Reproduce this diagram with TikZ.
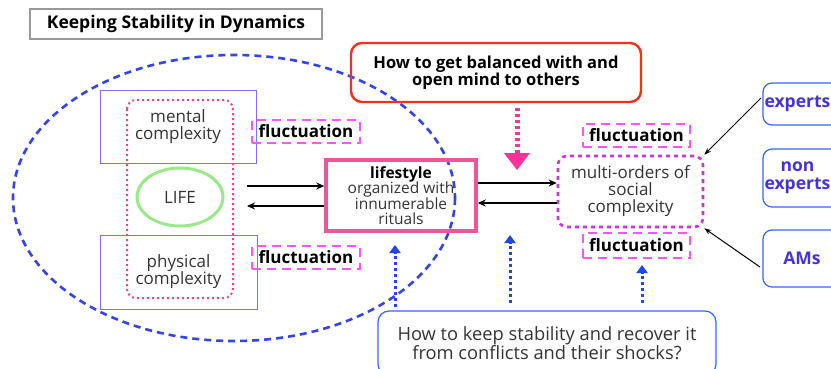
\documentclass[tikz,border=0pt]{standalone}
\usepackage{fontspec}
\setmainfont{Open Sans}
\usetikzlibrary{arrows.meta,shapes.geometric}
\definecolor{txt}{HTML}{333333}
\definecolor{violetline}{HTML}{7F6FFF}
\definecolor{ellblue}{HTML}{3344EE}
\definecolor{pinkdot}{HTML}{EE4488}
\definecolor{lifegreen}{HTML}{9BE88A}
\definecolor{flucmag}{HTML}{FF55FF}
\definecolor{stylepink}{HTML}{F0559A}
\definecolor{socialmag}{HTML}{CC33DD}
\definecolor{agentblue}{HTML}{3366FF}
\definecolor{agenttxt}{HTML}{4433DD}
\definecolor{qred}{HTML}{F03020}
\definecolor{bigpink}{HTML}{FF3399}
\definecolor{qblue}{HTML}{2244EE}
\begin{document}
\begin{tikzpicture}[x=1pt,y=-1pt,
  every node/.style={inner sep=0pt,font=\fontsize{17}{17}\selectfont,text=txt,align=center},
  titlebox/.style={draw=gray!80,line width=1.2pt,font=\fontsize{17.5}{17}\selectfont\bfseries,text=black},
  complexbox/.style={draw=violetline,line width=1pt},
  flucbox/.style={draw=flucmag,line width=1.6pt,dash pattern=on 9pt off 6pt,font=\fontsize{17}{17}\selectfont\bfseries,text=black},
  agentbox/.style={draw=agentblue,line width=1.2pt,rounded corners=9pt,text=agenttxt,font=\fontsize{17.5}{18}\selectfont\bfseries},
  flow/.style={line width=1.6pt,-{Stealth[length=8pt,width=7pt]}},
  feed/.style={line width=1pt,-{Stealth[length=7pt,width=5pt]}},
  qarrow/.style={qblue,line width=3pt,dash pattern=on 3pt off 3pt,-{Triangle[length=8pt,width=11pt]}}]
\useasboundingbox (0,0) rectangle (831,368);
\clip (0,0) rectangle (831,368);

% title
\node[titlebox,minimum width=292,minimum height=30] (title) at (176,24) {Keeping Stability in Dynamics};

% personal sphere
\draw[ellblue,line width=2.6pt,dash pattern=on 7pt off 5pt] (234,198) ellipse[x radius=221,y radius=143];

\node[complexbox,minimum width=156,minimum height=73] (mental) at (178,126.5) {mental\\complexity};
\node[complexbox,minimum width=157,minimum height=74] (physical) at (178.5,272) {physical\\complexity};
\draw[pinkdot,line width=2pt,dash pattern=on 2pt off 3pt,rounded corners=9pt] (127,100) rectangle (233,298);
\node[draw=lifegreen,line width=3pt,ellipse,minimum width=86,minimum height=58] (life) at (180,197) {LIFE};

\node[flucbox,minimum width=108,minimum height=23] (f1) at (306,131.5) {fluctuation};
\node[flucbox,minimum width=108,minimum height=23] (f2) at (306,257.5) {fluctuation};

% lifestyle
\node[draw=stylepink,line width=3.5pt,minimum width=150,minimum height=71,font=\fontsize{15.5}{15.5}\selectfont] (style) at (401,195.5)
  {\textbf{\color{black}lifestyle}\\organized with\\innumerable\\rituals};
\coordinate (la) at (247,186);
\coordinate (lb) at (247,206);
\draw[flow] (la) -- (style.west |- la);
\draw[flow] (style.west |- lb) -- (lb);

% question about balance
\node[draw=qred,line width=2.4pt,rounded corners=11pt,minimum width=290,minimum height=59,
  font=\fontsize{16.5}{16.5}\selectfont\bfseries,text=black] (bal) at (496,72.5)
  {How to get balanced with and\\open mind to others};

% social complexity
\node[draw=socialmag,line width=2.6pt,dash pattern=on 4pt off 4pt,rounded corners=9pt,minimum width=145,minimum height=71] (social) at (630.5,191.5)
  {multi-orders of\\social\\complexity};
\draw[flow] (style.east |- 0,183) -- (social.west |- 0,183);
\draw[flow] (social.west |- 0,203) -- (style.east |- 0,203);

\node[flucbox,minimum width=107,minimum height=23] (f3) at (636.5,135.5) {fluctuation};
\node[flucbox,minimum width=107,minimum height=25] (f4) at (636.5,245.5) {fluctuation};

% pull from the balance question
\coordinate (bt) at (517,170);
\draw[bigpink,line width=5pt,dash pattern=on 3pt off 3pt] (bal.south -| bt) ++(0,5) -- (517,156);
\fill[bigpink] (504,153) -- (530,153) -- (bt) -- cycle;

% agents: boxes run past the right edge, labels kept inside
\node[agentbox,minimum width=78,minimum height=42] (experts) at (802,104) {};
\node[agentbox,minimum width=78,minimum height=58] (nonexp) at (802,178) {};
\node[agentbox,minimum width=78,minimum height=57] (ams) at (802,258.5) {};
\node[text=agenttxt,font=\fontsize{17.5}{18}\selectfont\bfseries] (expertslbl) at (797.5,104) {experts};
\node[text=agenttxt,font=\fontsize{17.5}{18}\selectfont\bfseries] (nonexplbl) at (797.5,178) {non\\experts};
\node[text=agenttxt,font=\fontsize{17.5}{18}\selectfont\bfseries] (amslbl) at (802,258.5) {AMs};
\draw[feed] (761,98) -- (social.north east);
\draw[feed] (760,267) -- (social.south east);

% question about stability
\node[draw=agentblue,line width=1.2pt,rounded corners=11pt,minimum width=338,minimum height=64,font=\fontsize{18.3}{17.5}\selectfont] (stab) at (547,343)
  {How to keep stability and recover it\\from conflicts and their shocks?};
\draw[qarrow] (395,307) -- (395,245);
\draw[qarrow] (510,303) -- (510,235);
\draw[qarrow] (642,303) -- (642,265);
\end{tikzpicture}
\end{document}
